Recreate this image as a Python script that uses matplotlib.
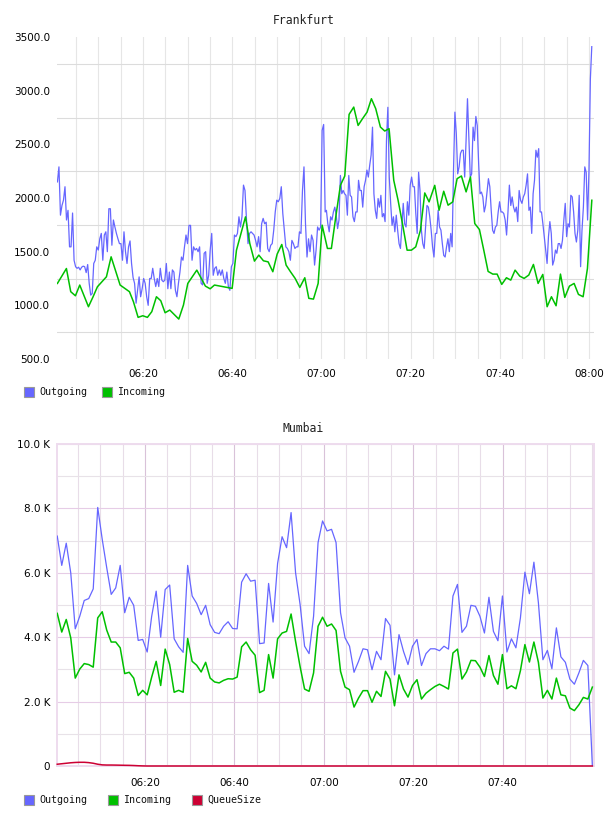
import matplotlib
matplotlib.use('Agg')
import matplotlib.pyplot as plt
import matplotlib.dates as mdates
from matplotlib.patches import Rectangle
from matplotlib.ticker import FixedLocator, FuncFormatter
import numpy as np
import pandas as pd

# ---------------- DATA ----------------
DAY = '2024-01-01'

# Frankfurt - Outgoing (sampled ~20 s), two stretches
fra_out_span1 = ('06:00:49', '07:00:50')
fra_out_vals1 = [
    2150, 2290, 1840, 1930, 1980, 2105, 1795, 1885, 1545, 1545,
    1860, 1420, 1360, 1345, 1355, 1330, 1355, 1365, 1360, 1305,
    1380, 1205, 1095, 1110, 1390, 1420, 1545, 1515, 1620, 1670,
    1420, 1655, 1685, 1500, 1900, 1900, 1560, 1795, 1730, 1670,
    1620, 1575, 1575, 1420, 1685, 1500, 1390, 1545, 1600, 1390,
    1260, 1205, 1020, 1140, 1265, 1080, 1155, 1250, 1205, 1080,
    1000, 1250, 1250, 1345, 1250, 1175, 1250, 1175, 1345, 1235,
    1220, 1235, 1390, 1155, 1310, 1155, 1330, 1310, 1140, 1080,
    1205, 1310, 1450, 1420, 1545, 1655, 1575, 1745, 1745, 1420,
    1545, 1515, 1530, 1500, 1545, 1205, 1190, 1485, 1500, 1205,
    1280, 1515, 1670, 1280, 1345, 1360, 1280, 1330, 1280, 1330,
    1250, 1205, 1310, 1175, 1140, 1360, 1390, 1655, 1640, 1670,
    1825, 1730, 1825, 2120, 2070, 1795, 1575, 1670, 1685, 1670,
    1655, 1605, 1545, 1640, 1500, 1760, 1810, 1760, 1775, 1530,
    1500, 1560, 1575, 1700, 1870, 1980, 1965, 1995, 2105, 1855,
    1700, 1545, 1530, 1500, 1420, 1605, 1575, 1530, 1545, 1545,
    1685, 1670, 2070, 2290, 1760, 1450, 1620, 1500, 1655, 1605,
    1375, 1515, 1730, 1700, 1730, 2630, 2685, 1870]
fra_out_span2 = ('07:01:07', '08:00:36')
fra_out_vals2 = [
    1885, 1760, 1685, 1825, 1795, 1870, 1915, 1840, 1715, 1795,
    2210, 2040, 2070, 2040, 2025, 1840, 2210, 2025, 2010, 1825,
    1780, 1870, 1870, 2165, 2070, 2070, 1915, 2105, 2165, 2260,
    2195, 2305, 2400, 2660, 2040, 1885, 1810, 1995, 1915, 2025,
    1825, 1855, 1780, 2535, 2845, 2195, 1950, 1745, 1825, 1685,
    1840, 1700, 1575, 1530, 1730, 1950, 1760, 1730, 1965, 1840,
    2120, 2195, 2105, 2105, 1855, 1670, 2240, 2070, 1700, 1575,
    1530, 1730, 1930, 1915, 1825, 1700, 1545, 1450, 1670, 1670,
    1885, 1730, 1700, 1575, 1465, 1450, 1545, 1620, 1500, 1670,
    1545, 2260, 2800, 2600, 2225, 2290, 2415, 2445, 2445, 2195,
    2535, 2925, 2570, 2195, 2225, 2660, 2535, 2760, 2675, 2320,
    2040, 2055, 2010, 1870, 1930, 2055, 2180, 2105, 1885, 1700,
    1670, 1730, 1745, 1870, 1965, 1870, 1870, 1855, 1795, 1655,
    1870, 2120, 1930, 2010, 1915, 1870, 1915, 1780, 2070, 1980,
    1950, 2010, 2040, 2120, 2225, 1885, 1915, 1670, 2040, 2165,
    2445, 2380, 2460, 1870, 1870, 1760, 1640, 1515, 1390, 1640,
    1780, 1670, 1375, 1420, 1515, 1485, 1575, 1575, 1530, 1605,
    1795, 1950, 1640, 1760, 1730, 2025, 2010, 1870, 1670, 1590,
    1700, 2025, 1360, 1700, 1915, 2290, 2240, 1795, 2260, 3110, 3410]

# Frankfurt - Incoming (minutes after 06:00, value)
fra_in_minutes = [
    0.81, 2.83, 3.80, 4.85, 5.82, 7.77, 8.81, 9.78, 11.80, 12.85,
    14.87, 16.96, 17.85, 18.90, 19.95, 20.99, 21.97, 23.01, 23.98, 24.95,
    26.00, 28.02, 29.07, 30.04, 32.06, 33.99, 35.05, 36.02, 39.98, 40.95,
    42.97, 43.94, 44.98, 45.96, 47.00, 48.05, 49.10, 50.07, 51.11, 52.08,
    53.06, 54.10, 55.15, 56.27, 57.17, 58.21, 59.26, 60.16,
    61.34, 62.23, 63.21, 64.25, 65.23, 66.20, 67.24, 68.22, 69.19, 70.23,
    71.20, 72.17, 73.22, 74.19, 75.16, 76.21, 77.18, 78.16, 79.20, 80.17,
    81.14, 82.19, 83.16, 84.13, 85.40, 86.37, 87.41, 88.39, 89.43, 90.41,
    91.38, 92.43, 93.40, 94.37, 95.42, 96.39, 97.36, 98.41, 99.38, 100.42,
    101.47, 102.44, 103.41, 104.46, 105.43, 106.48, 107.52, 108.57, 109.62, 110.59,
    111.56, 112.60, 113.58, 114.55, 115.59, 116.64, 117.61, 118.66, 119.63, 120.61]
fra_in_vals = [
    1204, 1343, 1127, 1089, 1189, 987, 1080, 1173, 1266, 1452,
    1189, 1127, 1034, 888, 903, 888, 941, 1080, 1043, 931,
    956, 872, 1003, 1204, 1328, 1179, 1154, 1189, 1158, 1514,
    1824, 1576, 1412, 1468, 1415, 1405, 1313, 1477, 1567, 1375,
    1313, 1251, 1167, 1257, 1065, 1058, 1204, 1747,
    1530, 1530, 1824, 2118, 2205, 2779, 2847, 2676, 2738, 2800,
    2925, 2832, 2661, 2624, 2646, 2165, 1979, 1762, 1514, 1514,
    1545, 1700, 2047, 1964, 2118, 1886, 2063, 1933, 1964, 2180,
    2205, 2057, 2196, 1762, 1706, 1514, 1316, 1291, 1291, 1195,
    1257, 1235, 1328, 1272, 1251, 1282, 1381, 1204, 1288, 987,
    1080, 996, 1291, 1074, 1179, 1204, 1102, 1080, 1343, 1979]

# Mumbai (thousands), sampled each minute
mum_span = ('06:00:22', '08:00:05')
mum_out_k = [
    7.14, 6.23, 6.92, 6.00, 4.26, 4.65, 5.14, 5.20, 5.50, 8.03,
    7.04, 6.16, 5.33, 5.53, 6.23, 4.76, 5.24, 4.99, 3.90, 3.93,
    3.54, 4.65, 5.43, 4.00, 5.48, 5.62, 3.95, 3.70, 3.53, 6.23,
    5.28, 5.05, 4.70, 4.99, 4.39, 4.15, 4.11, 4.34, 4.48, 4.27,
    4.26, 5.71, 5.97, 5.74, 5.77, 3.80, 3.82, 5.67, 4.47, 6.29,
    7.12, 6.78, 7.87, 6.00, 5.02, 3.72, 3.49, 4.65, 6.94, 7.61,
    7.30,
    7.35, 6.94, 4.76, 3.98, 3.72, 2.91, 3.25, 3.64, 3.61, 2.99,
    3.56, 3.30, 4.58, 4.37, 2.83, 4.08, 3.56, 3.15, 3.72, 3.93,
    3.12, 3.49, 3.64, 3.64, 3.58, 3.72, 3.63, 5.28, 5.64, 4.15,
    4.34, 4.99, 4.96, 4.65, 4.13, 5.24, 4.18, 3.89, 5.28, 3.54,
    3.95, 3.67, 4.60, 6.02, 5.35, 6.33, 5.07, 3.30, 3.59, 3.02,
    4.29, 3.39, 3.22, 2.70, 2.54, 2.89, 3.28, 3.12, 0.00]
mum_in_k = [
    4.74, 4.16, 4.55, 3.98, 2.73, 3.01, 3.18, 3.15, 3.07, 4.60,
    4.79, 4.22, 3.85, 3.85, 3.67, 2.87, 2.91, 2.73, 2.19, 2.35,
    2.21, 2.76, 3.25, 2.50, 3.63, 3.15, 2.29, 2.35, 2.29, 3.96,
    3.25, 3.13, 2.92, 3.22, 2.73, 2.61, 2.58, 2.66, 2.71, 2.70,
    2.76, 3.70, 3.85, 3.61, 3.44, 2.28, 2.35, 3.46, 2.73, 3.95,
    4.13, 4.18, 4.72, 3.87, 3.09, 2.39, 2.32, 2.89, 4.34, 4.62,
    4.34,
    4.41, 4.21, 2.94, 2.45, 2.37, 1.83, 2.11, 2.34, 2.34, 1.98,
    2.32, 2.16, 2.94, 2.70, 1.87, 2.83, 2.39, 2.14, 2.50, 2.68,
    2.08, 2.26, 2.37, 2.47, 2.54, 2.47, 2.39, 3.51, 3.63, 2.70,
    2.92, 3.28, 3.27, 3.07, 2.78, 3.43, 2.81, 2.54, 3.46, 2.40,
    2.49, 2.40, 2.96, 3.77, 3.23, 3.85, 3.22, 2.11, 2.35, 2.08,
    2.73, 2.21, 2.18, 1.80, 1.72, 1.90, 2.13, 2.08, 2.45]
mum_queue_k = [
    0.055, 0.070, 0.085, 0.100, 0.110, 0.115, 0.115, 0.105, 0.085, 0.055,
    0.035, 0.030, 0.030, 0.028, 0.025, 0.022, 0.020, 0.015, 0.008, 0.003,
    0, 0, 0, 0, 0, 0, 0, 0, 0, 0, 0, 0, 0, 0, 0, 0, 0, 0, 0, 0,
    0, 0, 0, 0, 0, 0, 0, 0, 0, 0, 0, 0, 0, 0, 0, 0, 0, 0, 0, 0,
    0, 0, 0, 0, 0, 0, 0, 0, 0, 0, 0, 0, 0, 0, 0, 0, 0, 0, 0, 0,
    0, 0, 0, 0, 0, 0, 0, 0, 0, 0, 0, 0, 0, 0, 0, 0, 0, 0, 0, 0,
    0, 0, 0, 0, 0, 0, 0, 0, 0, 0, 0, 0, 0, 0, 0, 0, 0, 0, 0, 0]

fra_yticks = [500, 1000, 1500, 2000, 2500, 3000, 3500]
fra_ygrid = [750, 1250, 1750, 2250, 2750, 3250]
fra_xticks = ['06:20', '06:40', '07:00', '07:20', '07:40', '08:00']
mum_yticks = [0, 2, 4, 6, 8, 10]
mum_xticks = ['06:20', '06:40', '07:00', '07:20', '07:40']

# ---------------- STYLE ----------------
C_OUT = '#6666ff'
C_IN = '#00c000'
C_Q = '#cc0033'
W, H = 608, 816
SANS = 'DejaVu Sans'
MONO = 'DejaVu Sans Mono'

base = pd.Timestamp(DAY + ' 06:00:00')


def ts(hms):
    return pd.Timestamp(DAY + ' ' + hms)


def mins(m):
    return base + pd.to_timedelta(np.asarray(m, dtype=float), unit='min')


fig = plt.figure(figsize=(W / 100, H / 100), dpi=100)


def axes_px(left, top, right, bottom):
    return fig.add_axes([left / W, 1 - bottom / H, (right - left) / W, (bottom - top) / H])


# ---------- Frankfurt ----------
ax1 = axes_px(57, 37, 594, 359)
t1 = pd.date_range(ts(fra_out_span1[0]), ts(fra_out_span1[1]), periods=len(fra_out_vals1))
t2 = pd.date_range(ts(fra_out_span2[0]), ts(fra_out_span2[1]), periods=len(fra_out_vals2))
t_out = t1.append(t2)
v_out = fra_out_vals1 + fra_out_vals2
ax1.plot(t_out.to_numpy(), v_out, color=C_OUT, lw=0.9, zorder=3)
ax1.plot(mins(fra_in_minutes).to_numpy(), fra_in_vals, color=C_IN, lw=1.1, zorder=4)
ax1.set_xlim(mins(0.72).to_numpy(), mins(121.1).to_numpy())
ax1.set_ylim(500, 3500)
ax1.set_yticks(fra_yticks)
ax1.set_yticklabels([f'{v:.1f}' for v in fra_yticks])
ax1.yaxis.set_minor_locator(FixedLocator(fra_ygrid))
ax1.set_xticks([ts(s).to_numpy() for s in fra_xticks])
ax1.set_xticklabels(fra_xticks)
ax1.xaxis.set_minor_locator(mdates.MinuteLocator(byminute=range(0, 60, 5)))
ax1.grid(True, which='minor', axis='y', color='#dcdcdc', lw=0.8)
ax1.grid(True, which='minor', axis='x', color='#e6e6e6', lw=0.8)
ax1.grid(True, which='major', axis='x', color='#e6e6e6', lw=0.8)
ax1.grid(False, which='major', axis='y')
for s in ax1.spines.values():
    s.set_visible(False)
ax1.set_axisbelow(True)
ax1.tick_params(which='both', length=0)
ax1.tick_params(axis='y', labelsize=7.5, pad=5)
ax1.tick_params(axis='x', labelsize=7.5, pad=7)
for lab in ax1.get_xticklabels() + ax1.get_yticklabels():
    lab.set_family(SANS)

# ---------- Mumbai ----------
ax2 = axes_px(57, 444, 594, 766)
tm = pd.date_range(ts(mum_span[0]), ts(mum_span[1]), periods=len(mum_out_k)).to_numpy()
ax2.plot(tm, mum_out_k, color=C_OUT, lw=0.9, zorder=3)
ax2.plot(tm, mum_in_k, color=C_IN, lw=1.1, zorder=4)
ax2.plot(tm, mum_queue_k, color=C_Q, lw=1.1, zorder=5, clip_on=False)
ax2.set_xlim(mins(0.31).to_numpy(), mins(120.45).to_numpy())
ax2.set_ylim(0, 10)
ax2.set_yticks(mum_yticks)
ax2.yaxis.set_major_formatter(FuncFormatter(lambda v, p: '0' if v == 0 else f'{v:.1f} K'))
ax2.yaxis.set_minor_locator(FixedLocator([1, 3, 5, 7, 9]))
ax2.set_xticks([ts(s).to_numpy() for s in mum_xticks])
ax2.set_xticklabels(mum_xticks)
ax2.xaxis.set_minor_locator(mdates.MinuteLocator(byminute=range(0, 60, 5)))
ax2.grid(True, which='minor', axis='x', color='#e8dde8', lw=0.8)
ax2.grid(True, which='major', axis='x', color='#d9c2d9', lw=0.8)
ax2.grid(True, which='major', axis='y', color='#e6cce6', lw=0.8)
ax2.grid(True, which='minor', axis='y', color='#e8e2e8', lw=0.8)
for s in ax2.spines.values():
    s.set_color('#eedcee')
    s.set_linewidth(1.4)
ax2.set_axisbelow(True)
ax2.tick_params(which='both', length=0)
ax2.tick_params(axis='y', labelsize=7.5, pad=5)
ax2.tick_params(axis='x', labelsize=7.5, pad=9)
for lab in ax2.get_xticklabels() + ax2.get_yticklabels():
    lab.set_family(SANS)

# ---------- Titles ----------
fig.text(304 / W, 1 - 20 / H, 'Frankfurt', ha='center', va='center', family=MONO, fontsize=8.3, color='#222222')
fig.text(303 / W, 1 - 428 / H, 'Mumbai', ha='center', va='center', family=MONO, fontsize=8.3, color='#222222')


# ---------- Legends ----------
def legend_item(x, y, color, label):
    fig.add_artist(Rectangle((x / W, 1 - (y + 5) / H), 10 / W, 10 / H, transform=fig.transFigure,
                             facecolor=color, edgecolor='#999999', lw=0.8))
    fig.text((x + 15) / W, 1 - y / H, label, ha='left', va='center', family=MONO, fontsize=7.2, color='#111111')


legend_item(24, 392, C_OUT, 'Outgoing')
legend_item(102, 392, C_IN, 'Incoming')
legend_item(24, 800, C_OUT, 'Outgoing')
legend_item(108, 800, C_IN, 'Incoming')
legend_item(192, 800, C_Q, 'QueueSize')

fig.savefig('out.png', dpi=100)
